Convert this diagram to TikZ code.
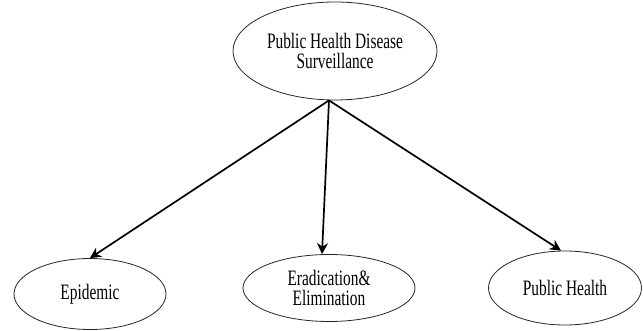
\documentclass[tikz,border=0pt]{standalone}
\usepackage{fontspec}
\setmainfont[FakeStretch=0.7]{Liberation Serif}
\usepackage{tikz}
\usepackage{xcolor}
\usetikzlibrary{shapes.geometric, positioning}
\usetikzlibrary{arrows.meta}
\tikzstyle{oval} = [ellipse, inner sep=0pt, text centered, align=center, draw=black!85, line width=0.8pt, font=\fontsize{22}{20.5}\selectfont]
\tikzstyle{arrow} = [line width=1.7pt, -{Stealth[length=11pt, width=11pt]}]

\begin{document}
\begin{tikzpicture}[node distance=240pt]
    \useasboundingbox (0,0) rectangle (643pt,-331pt);
    \node (surv) [oval, minimum width=204pt, minimum height=98pt] at (335pt,-51pt) {Public Health Disease\\Surveillance};
    \node (epid) [oval, minimum width=152pt, minimum height=71pt, below of = surv, xshift=-245pt, yshift=-3pt] {Epidemic};
    \node (erad) [oval, minimum width=172pt, minimum height=67pt, below of = surv, xshift=-6pt, yshift=3pt] {Eradication\&\\Elimination};
    \node (pubh) [oval, minimum width=153pt, minimum height=74pt, below of = surv, xshift=230pt, yshift=3pt] {Public Health};
    \draw[arrow] ([xshift=-6pt]surv.south) -- (epid.north);
    \draw[arrow] ([xshift=-6pt]surv.south) -- ([xshift=-7pt]erad.north);
    \draw[arrow] ([xshift=-6pt]surv.south) -- ([xshift=-4pt]pubh.north);
\end{tikzpicture}
\end{document}
